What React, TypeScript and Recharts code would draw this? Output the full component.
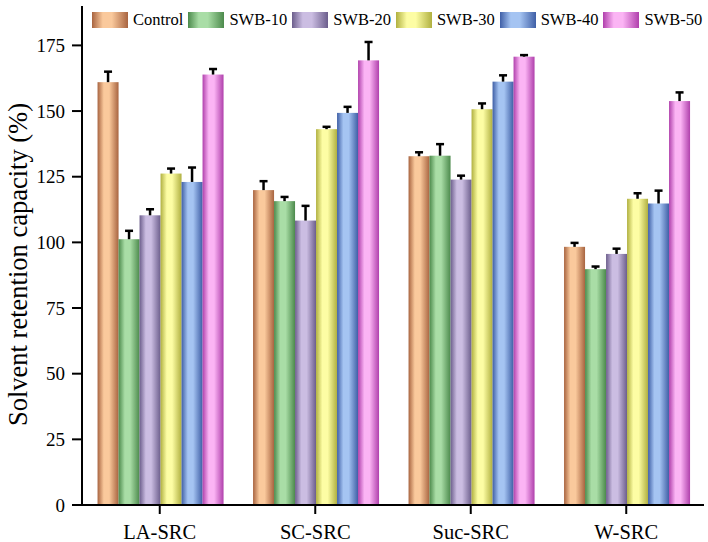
import React from 'react';
import { BarChart, Bar, XAxis, YAxis, Legend, Label } from 'recharts';

const categories = ['LA-SRC', 'SC-SRC', 'Suc-SRC', 'W-SRC'];

const seriesNames = ['Control', 'SWB-10', 'SWB-20', 'SWB-30', 'SWB-40', 'SWB-50'];

const controlValues = [161, 119.9, 132.8, 98.3];
const controlErr = [4, 3.4, 1.5, 1.5];
const swb10Values = [101.2, 115.7, 133, 89.8];
const swb10Err = [3.2, 1.6, 4.4, 1];
const swb20Values = [110.3, 108.3, 123.9, 95.6];
const swb20Err = [2.3, 5.6, 1.5, 2];
const swb30Values = [126.2, 143.1, 150.7, 116.6];
const swb30Err = [1.9, 0.9, 2.2, 2.1];
const swb40Values = [123, 149.3, 161.2, 114.8];
const swb40Err = [5.5, 2.3, 2.4, 4.9];
const swb50Values = [163.9, 169.3, 170.7, 153.8];
const swb50Err = [2.1, 7, 0.6, 3.3];

const yTicks = [0, 25, 50, 75, 100, 125, 150, 175];

const allValues = [controlValues, swb10Values, swb20Values, swb30Values, swb40Values, swb50Values];
const allErrors = [controlErr, swb10Err, swb20Err, swb30Err, swb40Err, swb50Err];

// [edge colour, highlight colour] for the cylinder shading
const SHADES: [string, string][] = [
  ['#a86440', '#fac99c'],
  ['#4c8a4c', '#a9dda6'],
  ['#6c5e8c', '#cbbde2'],
  ['#b0b040', '#fdfda4'],
  ['#3f5fa6', '#a5c4f2'],
  ['#b040ac', '#fbb4f4'],
];

const FONT = "'Liberation Serif', 'Times New Roman', serif";

const data = categories.map((name, i) => {
  const row: Record<string, string | number> = { name };
  seriesNames.forEach((s, k) => {
    row[s] = allValues[k][i];
    row[s + '_err'] = allErrors[k][i];
  });
  return row;
});

const Gradients = () => (
  <svg width={0} height={0} style={{ position: 'absolute' }}>
    <defs>
      {SHADES.map(([dark, light], k) => (
        <linearGradient key={k} id={`grad-${k}`} x1="0" y1="0" x2="1" y2="0">
          <stop offset="0%" stopColor={dark} />
          <stop offset="30%" stopColor={light} />
          <stop offset="55%" stopColor={light} />
          <stop offset="100%" stopColor={dark} />
        </linearGradient>
      ))}
    </defs>
  </svg>
);

const makeShape = (k: number) => (props: any) => {
  const { x, y, width, height, payload } = props;
  const val = payload[seriesNames[k]] as number;
  const err = payload[seriesNames[k] + '_err'] as number;
  const errPx = val ? (err * height) / val : 0;
  const cx = x + width / 2;
  const top = y - errPx;
  return (
    <g>
      <rect x={x} y={y} width={width} height={height} fill={`url(#grad-${k})`} />
      <line x1={cx} x2={cx} y1={y} y2={top} stroke="#000" strokeWidth={2.5} />
      <line x1={cx - 4} x2={cx + 4} y1={top} y2={top} stroke="#000" strokeWidth={2.5} />
    </g>
  );
};

const LegendContent = () => (
  <div style={{ display: 'flex', alignItems: 'center', fontFamily: FONT, fontSize: 16.5, whiteSpace: 'nowrap' }}>
    {seriesNames.map((s, k) => (
      <div key={s} style={{ display: 'flex', alignItems: 'center', marginRight: 5 }}>
        <svg width={36} height={16} style={{ marginRight: 5 }}>
          <rect x={0} y={0} width={36} height={16} fill={`url(#grad-${k})`} />
        </svg>
        <span style={{ color: '#000' }}>{s}</span>
      </div>
    ))}
  </div>
);

const App = () => {
  return (
    <div style={{ position: 'absolute', left: 0, top: 0, width: 708, height: 542, background: '#fff' }}>
      <Gradients />
      <BarChart
        width={708}
        height={542}
        data={data}
        margin={{ top: 6, right: 4, bottom: 0, left: 0 }}
        barCategoryGap="10%"
        barGap={0}
      >
        <XAxis
          dataKey="name"
          height={37}
          tickSize={9}
          tickMargin={10}
          axisLine={{ stroke: '#000', strokeWidth: 2 }}
          tickLine={{ stroke: '#000', strokeWidth: 2 }}
          tick={{ fill: '#000', fontSize: 20.5, fontFamily: FONT }}
        />
        <YAxis
          width={82}
          domain={[0, 190]}
          ticks={yTicks}
          tickSize={10}
          tickMargin={7}
          axisLine={{ stroke: '#000', strokeWidth: 2 }}
          tickLine={{ stroke: '#000', strokeWidth: 2 }}
          tick={{ fill: '#000', fontSize: 19, fontFamily: FONT }}
        >
          <Label
            content={({ viewBox }: any) => {
              const cx = viewBox.x + 18;
              const cy = viewBox.y + viewBox.height / 2 + 9;
              return (
                <text
                  x={cx}
                  y={cy}
                  transform={`rotate(-90 ${cx} ${cy})`}
                  textAnchor="middle"
                  dominantBaseline="central"
                  fontFamily={FONT}
                  fontSize={26.5}
                  fill="#000"
                >
                  Solvent retention capacity (%)
                </text>
              );
            }}
          />
        </YAxis>
        <Legend
          layout="horizontal"
          verticalAlign="middle"
          align="center"
          wrapperStyle={{ top: 10, left: 92, width: 'auto' }}
          content={() => <LegendContent />}
        />
        {seriesNames.map((s, k) => (
          <Bar key={s} dataKey={s} shape={makeShape(k)} isAnimationActive={false} />
        ))}
      </BarChart>
    </div>
  );
};

export default App;
